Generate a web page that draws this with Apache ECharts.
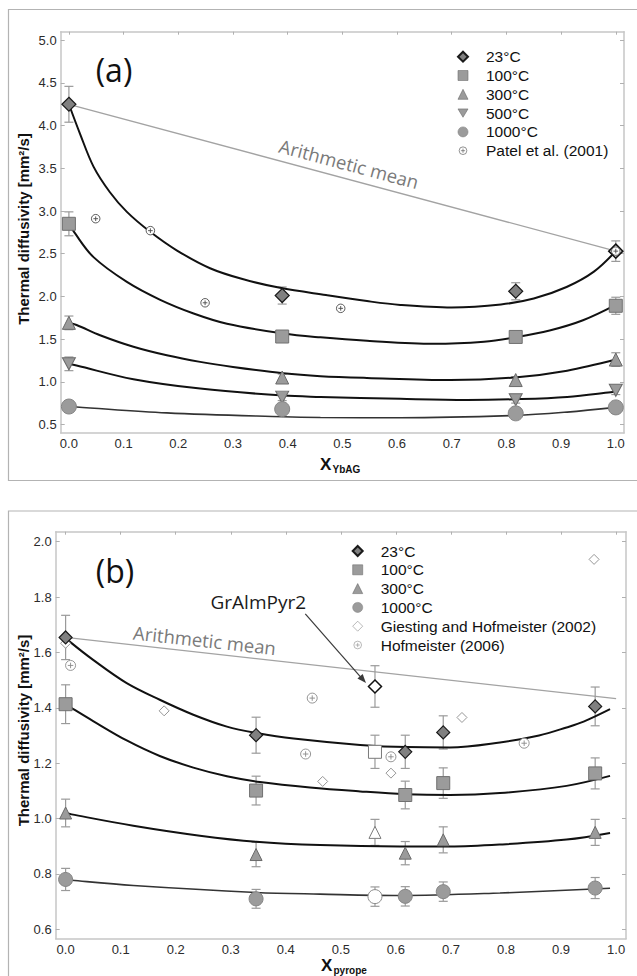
<!DOCTYPE html>
<html>
<head>
<meta charset="utf-8">
<script src="https://cdn.jsdelivr.net/npm/echarts@6/dist/echarts.min.js"></script>
<style>
  html, body { margin: 0; background: #fff; }
  #chart { width: 637px; height: 976px; }
</style>
</head>
<body>
<div id="chart"></div>
<script>
(function() {
  // tick labels
  var XT = [0, 0.1, 0.2, 0.3, 0.4, 0.5, 0.6, 0.7, 0.8, 0.9, 1.0];
  var YT_A = [0.5, 1.0, 1.5, 2.0, 2.5, 3.0, 3.5, 4.0, 4.5, 5.0];
  var YT_B = [0.6, 0.8, 1.0, 1.2, 1.4, 1.6, 1.8, 2.0];

  // panel (a): [x, y, error]
  var a23 = [[0, 4.25, 0.21], [0.39, 2.01, 0.10], [0.817, 2.06, 0.10]];
  var a23Open = [[1.0, 2.53, 0.12]];
  var a100 = [[0, 2.85, 0.14], [0.39, 1.53, 0.04], [0.817, 1.525, 0.04], [1.0, 1.89, 0.10]];
  var a300 = [[0, 1.69, 0.08], [0.39, 1.05, 0.04], [0.817, 1.02, 0.04], [1.0, 1.26, 0.08]];
  var a500 = [[0, 1.21, 0.08], [0.39, 0.82, 0.04], [0.817, 0.79, 0.04], [1.0, 0.90, 0.05]];
  var a1000 = [[0, 0.71, 0.04], [0.39, 0.68, 0.04], [0.817, 0.63, 0.04], [1.0, 0.70, 0.04]];
  var aPatel = [[0.049, 2.91], [0.149, 2.77], [0.249, 1.925], [0.497, 1.86], [1.0, 2.53]];
  var aMean = [[0, 4.25], [1.0, 2.53]];

  // panel (a) fitted curves
  var fitA23 = [[0, 4.25], [0.02, 3.91], [0.045, 3.52], [0.075, 3.22], [0.106, 2.99], [0.148, 2.76], [0.197, 2.54], [0.258, 2.33], [0.319, 2.2], [0.386, 2.1], [0.47, 2.015], [0.545, 1.945], [0.606, 1.9], [0.7, 1.87], [0.79, 1.905], [0.85, 1.975], [0.91, 2.11], [0.96, 2.29], [1.0, 2.53]];
  var fitA100 = [[0, 2.86], [0.011, 2.74], [0.045, 2.46], [0.106, 2.17], [0.167, 1.96], [0.228, 1.8], [0.289, 1.68], [0.392, 1.565], [0.46, 1.52], [0.545, 1.48], [0.667, 1.445], [0.759, 1.47], [0.815, 1.52], [0.879, 1.6], [0.94, 1.72], [1.0, 1.9]];
  var fitA300 = [[0, 1.69], [0.014, 1.665], [0.057, 1.545], [0.118, 1.41], [0.179, 1.31], [0.24, 1.233], [0.3, 1.174], [0.392, 1.1], [0.46, 1.066], [0.545, 1.045], [0.698, 1.02], [0.815, 1.05], [0.911, 1.13], [1.0, 1.26]];
  var fitA500 = [[0, 1.21], [0.014, 1.19], [0.118, 1.03], [0.24, 0.92], [0.392, 0.838], [0.46, 0.823], [0.606, 0.8], [0.728, 0.787], [0.815, 0.796], [0.911, 0.823], [1.0, 0.885]];
  var fitA1000 = [[0, 0.71], [0.014, 0.705], [0.179, 0.636], [0.392, 0.59], [0.46, 0.582], [0.606, 0.578], [0.815, 0.605], [0.911, 0.645], [1.0, 0.70]];

  // panel (b): [x, y, error]
  var b23 = [[0, 1.654, 0.08], [0.346, 1.301, 0.065], [0.617, 1.241, 0.06], [0.686, 1.311, 0.06], [0.962, 1.405, 0.07]];
  var b23Open = [[0.562, 1.477, 0.075]];
  var b100 = [[0, 1.413, 0.07], [0.346, 1.101, 0.052], [0.617, 1.085, 0.05], [0.686, 1.128, 0.055], [0.962, 1.163, 0.056]];
  var b100Open = [[0.562, 1.241, 0.06]];
  var b300 = [[0, 1.02, 0.05], [0.346, 0.87, 0.044], [0.617, 0.875, 0.042], [0.686, 0.923, 0.047], [0.962, 0.95, 0.047]];
  var b300Open = [[0.562, 0.95, 0.047]];
  var b1000 = [[0, 0.78, 0.04], [0.346, 0.71, 0.034], [0.617, 0.719, 0.035], [0.686, 0.736, 0.035], [0.962, 0.749, 0.038]];
  var b1000Open = [[0.562, 0.718, 0.035]];
  var bGiesting = [[0, 1.633], [0.179, 1.389], [0.467, 1.134], [0.591, 1.164], [0.72, 1.365], [0.96, 1.936]];
  var bHofmeister = [[0.009, 1.553], [0.436, 1.233], [0.448, 1.435], [0.591, 1.223], [0.833, 1.272]];
  var bMean = [[0, 1.654], [1.0, 1.433]];

  var fitB23 = [[0, 1.654], [0.008, 1.638], [0.05, 1.573], [0.111, 1.489], [0.171, 1.429], [0.232, 1.375], [0.293, 1.332], [0.347, 1.309], [0.414, 1.289], [0.535, 1.266], [0.62, 1.258], [0.698, 1.257], [0.789, 1.275], [0.86, 1.3], [0.91, 1.329], [0.941, 1.35], [0.989, 1.395]];
  var fitB100 = [[0, 1.413], [0.011, 1.399], [0.05, 1.352], [0.111, 1.282], [0.171, 1.226], [0.232, 1.184], [0.293, 1.153], [0.353, 1.132], [0.444, 1.112], [0.535, 1.098], [0.617, 1.088], [0.698, 1.085], [0.789, 1.092], [0.91, 1.118], [0.989, 1.154]];
  var fitB300 = [[0, 1.02], [0.011, 1.015], [0.123, 0.974], [0.244, 0.938], [0.346, 0.916], [0.462, 0.904], [0.607, 0.899], [0.698, 0.899], [0.789, 0.906], [0.91, 0.924], [0.989, 0.948]];
  var fitB1000 = [[0, 0.78], [0.011, 0.777], [0.123, 0.758], [0.346, 0.733], [0.462, 0.727], [0.607, 0.722], [0.789, 0.731], [0.989, 0.748]];

  var SANS = '"Liberation Sans", Arial, sans-serif';
  var OPEN = '"Open Sans", sans-serif';
  var AXIS = '#c6c6c6';
  var CPLUS = 'path://M10,0A10,10,0,1,1,-10,0A10,10,0,1,1,10,0ZM-5.5,0L5.5,0M0,-5.5L0,5.5';
  var CPLUS_ICON = 'path://M-13,-13M13,13M10,0A10,10,0,1,1,-10,0A10,10,0,1,1,10,0ZM-5.5,0L5.5,0M0,-5.5L0,5.5';
  var TRI_DOWN = 'path://M-6,0L6,0L0,10Z';

  function fmt(v) { return v.toFixed(1); }

  function xAxisOf(grid, min, max, top) {
    return {
      type: 'value', gridIndex: grid, position: top ? 'top' : 'bottom', min: min, max: max,
      axisLine: { show: true, onZero: false, lineStyle: { color: AXIS, width: 1.5 } },
      axisTick: { show: !!top, inside: true, length: 3, customValues: XT, lineStyle: { color: '#b0b0b0' } },
      axisLabel: { show: !top, customValues: XT, formatter: fmt, color: '#2b2b2b', fontSize: 13, fontFamily: SANS, margin: 4 },
      splitLine: { show: false }
    };
  }
  function yAxisOf(grid, min, max, ticks, right) {
    return {
      type: 'value', gridIndex: grid, position: right ? 'right' : 'left', min: min, max: max,
      axisLine: { show: true, onZero: false, lineStyle: { color: AXIS, width: 1.5 } },
      axisTick: { show: true, inside: true, length: 4, customValues: ticks, lineStyle: { color: '#b0b0b0' } },
      axisLabel: { show: !right, customValues: ticks, formatter: fmt, color: '#2b2b2b', fontSize: 13, fontFamily: SANS, margin: 4 },
      splitLine: { show: false }
    };
  }

  function renderErr(params, api) {
    var x = api.value(0), y = api.value(1), e = api.value(2);
    var hi = api.coord([x, y + e]), lo = api.coord([x, y - e]);
    var st = { stroke: '#9a9a9a', lineWidth: 1.2 };
    return { type: 'group', children: [
      { type: 'line', shape: { x1: hi[0], y1: hi[1], x2: lo[0], y2: lo[1] }, style: st },
      { type: 'line', shape: { x1: hi[0] - 4.5, y1: hi[1], x2: hi[0] + 4.5, y2: hi[1] }, style: st },
      { type: 'line', shape: { x1: lo[0] - 4.5, y1: lo[1], x2: lo[0] + 4.5, y2: lo[1] }, style: st }
    ] };
  }
  function errs(data, ax) {
    return { type: 'custom', xAxisIndex: ax, yAxisIndex: ax, data: data, renderItem: renderErr,
      encode: { x: 0, y: 1 }, z: 2, silent: true };
  }
  function dots(name, data, ax, sym, size, fill, stroke, bw, z) {
    return { type: 'scatter', name: name, xAxisIndex: ax, yAxisIndex: ax,
      data: data.map(function(d) { return [d[0], d[1]]; }),
      symbol: sym, symbolSize: size,
      itemStyle: { color: fill, borderColor: stroke, borderWidth: bw, opacity: 1 },
      z: z || 5, silent: true };
  }
  function fit(data, ax, color, w) {
    return { type: 'line', xAxisIndex: ax, yAxisIndex: ax, data: data, smooth: 0.35,
      showSymbol: false, symbol: 'none', lineStyle: { color: color, width: w }, z: 3, silent: true };
  }
  function mean(data, ax) {
    return { type: 'line', xAxisIndex: ax, yAxisIndex: ax, data: data, showSymbol: false, symbol: 'none',
      lineStyle: { color: '#a3a3a3', width: 1.3 }, z: 1, silent: true };
  }

  var GREY = '#9b9b9b';
  var series = [
    mean(aMean, 0),
    errs(a23.concat(a23Open), 0), errs(a100, 0), errs(a300, 0), errs(a500, 0), errs(a1000, 0),
    fit(fitA23, 0, '#111', 2), fit(fitA100, 0, '#111', 2), fit(fitA300, 0, '#111', 2),
    fit(fitA500, 0, '#111', 2), fit(fitA1000, 0, '#333', 1.6),
    dots('23°C', a23, 0, 'diamond', 14, '#808080', '#1a1a1a', 1.2),
    dots('23°C open', a23Open, 0, 'diamond', 14, '#fff', '#111', 1.6),
    dots('100°C', a100, 0, 'rect', 13, GREY, '#707070', 1),
    dots('300°C', a300, 0, 'triangle', [13, 13], GREY, '#6a6a6a', 1),
    dots('500°C', a500, 0, TRI_DOWN, [13, 12], GREY, '#6a6a6a', 1),
    dots('1000°C', a1000, 0, 'circle', 15, GREY, '#858585', 1),
    dots('Patel et al. (2001)', aPatel, 0, CPLUS, 8.5, '#fff', '#4a4a4a', 0.9, 7),

    mean(bMean, 2),
    errs(b23.concat(b23Open), 2), errs(b100.concat(b100Open), 2), errs(b300.concat(b300Open), 2),
    errs(b1000.concat(b1000Open), 2),
    fit(fitB23, 2, '#111', 2), fit(fitB100, 2, '#111', 2), fit(fitB300, 2, '#111', 2),
    fit(fitB1000, 2, '#333', 1.6),
    dots('23°C', b23, 2, 'diamond', 13, '#808080', '#1a1a1a', 1.2),
    dots('GrAlmPyr2 23', b23Open, 2, 'diamond', 13, '#fff', '#111', 1.5),
    dots('100°C', b100, 2, 'rect', 13, GREY, '#707070', 1),
    dots('GrAlmPyr2 100', b100Open, 2, 'rect', 13, '#fff', '#7a7a7a', 1),
    dots('300°C', b300, 2, 'triangle', [12, 12], GREY, '#6a6a6a', 1),
    dots('GrAlmPyr2 300', b300Open, 2, 'triangle', [12, 12], '#fff', '#7a7a7a', 1),
    dots('1000°C', b1000, 2, 'circle', 14, GREY, '#858585', 1),
    dots('GrAlmPyr2 1000', b1000Open, 2, 'circle', 14, '#fff', '#8a8a8a', 1),
    dots('Giesting and Hofmeister (2002)', bGiesting, 2, 'diamond', 10, '#fff', '#8a8a8a', 0.9, 4),
    dots('Hofmeister (2006)', bHofmeister, 2, CPLUS, 10, '#fff', '#8a8a8a', 0.9, 6)
  ];

  var thin = { borderWidth: 0.6 };
  function legendOf(names, left, top) {
    return {
      orient: 'vertical', left: left, top: top, selectedMode: false,
      data: names.map(function(n) {
        if (n === '23°C') return n;
        var item = { name: n, itemStyle: thin };
        if (n.indexOf('Hofmeister (2006)') === 0 || n.indexOf('Patel') === 0) item.icon = CPLUS_ICON;
        return item;
      }),
      itemWidth: 10, itemHeight: 10, itemGap: 0, padding: 0,
      textStyle: { fontSize: 15.5, color: '#111', fontFamily: SANS, lineHeight: 18.8, padding: [0, 0, 0, 13] }
    };
  }

  var chart = echarts.init(document.getElementById('chart'), null, { renderer: 'svg' });
  chart.setOption({
    animation: false,
    backgroundColor: '#fff',
    grid: [
      { left: 60.7, top: 31.7, width: 563.3, height: 401.3 },
      { left: 55.7, top: 531.7, width: 570.3, height: 407 }
    ],
    xAxis: [
      xAxisOf(0, -0.015, 1.015, false), xAxisOf(0, -0.015, 1.015, true),
      xAxisOf(1, -0.018, 1.018, false), xAxisOf(1, -0.018, 1.018, true)
    ],
    yAxis: [
      yAxisOf(0, 0.4, 5.1, YT_A, false), yAxisOf(0, 0.4, 5.1, YT_A, true),
      yAxisOf(1, 0.566, 2.036, YT_B, false), yAxisOf(1, 0.566, 2.036, YT_B, true)
    ],
    legend: [
      legendOf(['23°C', '100°C', '300°C', '500°C', '1000°C', 'Patel et al. (2001)'], 457, 47.3),
      legendOf(['23°C', '100°C', '300°C', '1000°C', 'Giesting and Hofmeister (2002)', 'Hofmeister (2006)'], 351.7, 541.6)
    ],
    series: series
  });

  // annotations placed relative to the data
  function px(ax, p) { return chart.convertToPixel({ xAxisIndex: ax, yAxisIndex: ax }, p); }
  function meanLabel(id, data, ax, t, off) {
    var p0 = px(ax, data[0]), p1 = px(ax, data[1]);
    var dx = p1[0] - p0[0], dy = p1[1] - p0[1], len = Math.sqrt(dx * dx + dy * dy);
    return { type: 'text', id: id, x: p0[0] + t * dx + off * dy / len, y: p0[1] + t * dy - off * dx / len,
      rotation: -Math.atan2(dy, dx), z: 10,
      style: { text: 'Arithmetic mean', fill: '#7a7a7a', font: '18.5px ' + OPEN, align: 'center', verticalAlign: 'middle' } };
  }
  var g = px(2, [b23Open[0][0], b23Open[0][1]]);
  var tip = [g[0] - 9, g[1] - 3.4], tail = [g[0] - 69.7, g[1] - 72.7];
  var ux = tip[0] - tail[0], uy = tip[1] - tail[1], ul = Math.sqrt(ux * ux + uy * uy);
  ux /= ul; uy /= ul;

  chart.setOption({
    graphic: [
      { type: 'rect', id: 'frameA', shape: { x: 8.5, y: 9.5, width: 640, height: 471 }, style: { fill: null, stroke: '#b3b3b3', lineWidth: 1.2 }, z: 0 },
      { type: 'rect', id: 'frameB', shape: { x: 8.5, y: 511, width: 640, height: 480 }, style: { fill: null, stroke: '#b3b3b3', lineWidth: 1.2 }, z: 0 },
      { type: 'text', id: 'lblA', x: 114, y: 69, style: { text: '(a)', fill: '#111', font: '32px ' + OPEN, align: 'center', verticalAlign: 'middle' } },
      { type: 'text', id: 'lblB', x: 115, y: 570, style: { text: '(b)', fill: '#111', font: '32px ' + OPEN, align: 'center', verticalAlign: 'middle' } },
      { type: 'text', id: 'ytA', x: 23, y: 229, rotation: Math.PI / 2, style: { text: 'Thermal diffusivity [mm²/s]', fill: '#111', font: 'bold 15px ' + SANS, align: 'center', verticalAlign: 'middle' } },
      { type: 'text', id: 'ytB', x: 23, y: 730.5, rotation: Math.PI / 2, style: { text: 'Thermal diffusivity [mm²/s]', fill: '#111', font: 'bold 15px ' + SANS, align: 'center', verticalAlign: 'middle' } },
      { type: 'text', id: 'xtA', x: 320, y: 464, style: { text: 'X', fill: '#111', font: 'bold 17px ' + SANS, align: 'left', verticalAlign: 'middle' } },
      { type: 'text', id: 'xtAs', x: 332.5, y: 469, style: { text: 'YbAG', fill: '#111', font: 'bold 10px ' + SANS, align: 'left', verticalAlign: 'middle' } },
      { type: 'text', id: 'xtB', x: 321, y: 965, style: { text: 'X', fill: '#111', font: 'bold 17px ' + SANS, align: 'left', verticalAlign: 'middle' } },
      { type: 'text', id: 'xtBs', x: 333.5, y: 970, style: { text: 'pyrope', fill: '#111', font: 'bold 10px ' + SANS, align: 'left', verticalAlign: 'middle' } },
      meanLabel('meanA', aMean, 0, 0.505, 15.5),
      meanLabel('meanB', bMean, 2, 0.25, 13),
      { type: 'text', id: 'gr', x: g[0] - 116.7, y: g[1] - 84.7, style: { text: 'GrAlmPyr2', fill: '#1a1a1a', font: '19px ' + OPEN, align: 'center', verticalAlign: 'middle' }, z: 10 },
      { type: 'line', id: 'arrow', shape: { x1: tail[0], y1: tail[1], x2: tip[0] - 6 * ux, y2: tip[1] - 6 * uy }, style: { stroke: '#3a3a3a', lineWidth: 1.2 }, z: 10 },
      { type: 'polygon', id: 'head', shape: { points: [tip, [tip[0] - 9 * ux - 3.5 * uy, tip[1] - 9 * uy + 3.5 * ux], [tip[0] - 9 * ux + 3.5 * uy, tip[1] - 9 * uy - 3.5 * ux]] }, style: { fill: '#3a3a3a' }, z: 10 }
    ]
  });
  window.addEventListener('resize', function() { chart.resize(); });
})();
</script>
</body>
</html>
